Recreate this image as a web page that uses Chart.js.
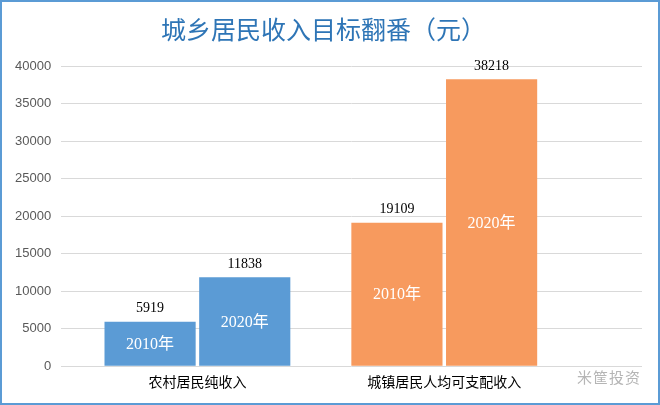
<!DOCTYPE html>
<html>
<head>
<meta charset="utf-8">
<script src="https://cdn.jsdelivr.net/npm/chart.js@4"></script>
<style>
  body { margin: 0; background: #fff; }
  #wrap { position: relative; width: 660px; height: 405px; }
  #frame { position: absolute; left: 0; top: 0; width: 660px; height: 405px; box-sizing: border-box;
           border: 2px solid #5b9bd5; pointer-events: none; }
  #mark { position: absolute; left: 577px; top: 366px; font: 15px "Noto Sans CJK SC"; color: #b5b5b5;
          letter-spacing: 1px; }
</style>
</head>
<body>
<div id="wrap">
  <canvas id="myChart"></canvas>
  <div id="frame"></div>
  <div id="mark">米筐投资</div>
</div>
<script>
const categories = ["农村居民纯收入", "城镇居民人均可支配收入"];
const years = ["2010年", "2020年"];
const income2010 = [5919, 19109];
const income2020 = [11838, 38218];
const yTicks = [0, 5000, 10000, 15000, 20000, 25000, 30000, 35000, 40000];

const groupColors = ["#5b9bd5", "#f79a5e"]; // 农村 蓝, 城镇 橙

// x 轴用数字位置 1, 2 表示两个类别
const toPoints = (arr) => arr.map((v, i) => ({ x: i + 1, y: v }));

// 柱子上方数值 + 柱内年份
const barLabels = {
  id: "barLabels",
  afterDatasetsDraw(chart) {
    const c = chart.ctx;
    chart.data.datasets.forEach((ds, di) => {
      chart.getDatasetMeta(di).data.forEach((bar, i) => {
        c.save();
        c.textAlign = "center";
        c.fillStyle = "#000";
        c.font = "14px 'Liberation Serif', 'Noto Sans CJK SC'";
        c.textBaseline = "bottom";
        c.fillText(String(ds.data[i].y), bar.x, bar.y - 6);
        c.fillStyle = "#fff";
        c.font = "16px 'Liberation Serif', 'Noto Sans CJK SC'";
        c.textBaseline = "middle";
        c.fillText(ds.label, bar.x, (bar.y + bar.base) / 2 + 1);
        c.restore();
      });
    });
  },
};

const ctx = document.querySelector("#myChart");

const myChart = new Chart(ctx, {
  type: "bar",
  data: {
    datasets: [
      { label: years[0], data: toPoints(income2010), backgroundColor: groupColors },
      { label: years[1], data: toPoints(income2020), backgroundColor: groupColors },
    ],
  },
  options: {
    responsive: true,
    maintainAspectRatio: false,
    animation: { duration: 0 },
    categoryPercentage: 0.767,
    barPercentage: 0.963,
    layout: { padding: { left: 5, right: 18, bottom: 4 } },
    plugins: {
      legend: false,
      tooltip: { enabled: false },
      title: {
        display: true,
        text: "城乡居民收入目标翻番（元）",
        color: "#2e75b6",
        font: { family: "'Noto Sans CJK SC'", size: 25, weight: "normal" },
        padding: { top: 14, bottom: 22 },
      },
    },
    scales: {
      x: {
        type: "linear",
        offset: false,
        min: 0.448,
        max: 2.801,
        grid: { display: false, drawTicks: false },
        border: { display: false },
        afterBuildTicks: (scale) => {
          scale.ticks = categories.map((_, i) => ({ value: i + 1 }));
        },
        ticks: {
          padding: 9,
          maxRotation: 0,
          color: "#000",
          font: { family: "'Liberation Serif', 'Noto Sans CJK SC'", size: 14 },
          callback: (v) => categories[v - 1] ?? "",
        },
      },
      y: {
        min: 0,
        max: 40000,
        afterBuildTicks: (scale) => {
          scale.ticks = yTicks.map((v) => ({ value: v }));
        },
        grid: { color: "#d9d9d9", lineWidth: 1, drawTicks: false },
        border: { display: false },
        ticks: {
          padding: 10,
          color: "#595959",
          font: { family: "'Liberation Sans'", size: 13 },
          callback: (v) => String(v),
        },
      },
    },
  },
  plugins: [barLabels],
});
</script>
</body>
</html>
